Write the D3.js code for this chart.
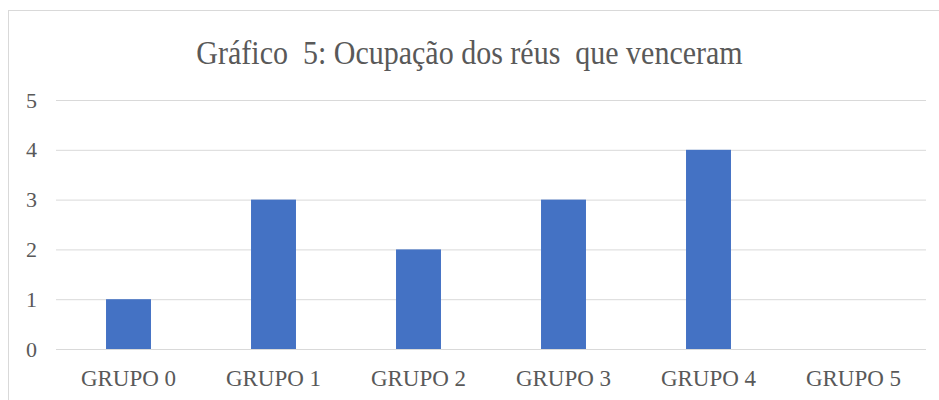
<!DOCTYPE html>
<html>
<head>
<meta charset="utf-8">
<script src="https://cdn.jsdelivr.net/npm/d3@7"></script>
<style>
  body { margin: 0; background: #fff; }
  svg text { font-family: "Liberation Serif", "Times New Roman", serif; fill: #595959; white-space: pre; }
</style>
</head>
<body>
<svg width="939" height="400"></svg>
<script>
"use strict";

var title = "Gráfico  5: Ocupação dos réus  que venceram";
var categories = ["GRUPO 0", "GRUPO 1", "GRUPO 2", "GRUPO 3", "GRUPO 4", "GRUPO 5"];
var values = [1, 3, 2, 3, 4, 0];
var yTicks = [0, 1, 2, 3, 4, 5];

var svg = d3.select('svg');
var margin = {left: 56, right: 13, top: 100, bottom: 51};
var width = 939, height = 400;

// chart frame
svg.append('rect')
	.attr('x', 8.5).attr('y', 10.5)
	.attr('width', 940).attr('height', 400)
	.attr('fill', 'none')
	.attr('stroke', '#d9d9d9');

var x = d3.scaleBand()
	.domain(categories)
	.range([margin.left, width - margin.right])
	.paddingInner(0.69)
	.paddingOuter(0.345);

var y = d3.scaleLinear()
	.domain([0, 5])
	.range([height - margin.bottom, margin.top]);

// title, slightly stretched vertically like the original
svg.append('text')
	.attr('transform', 'translate(' + (width / 2) + ',64) scale(1,1.12)')
	.attr('text-anchor', 'middle')
	.attr('font-size', 30)
	.text(title);

var grid = d3.axisLeft(y)
	.tickValues(yTicks)
	.tickSize(-(width - margin.left - margin.right))
	.tickPadding(19)
	.tickFormat(d3.format('d'));

var gy = svg.append('g')
	.attr('transform', 'translate(' + margin.left + ',0)')
	.call(grid);
gy.select('.domain').remove();
gy.selectAll('line').attr('stroke', '#d9d9d9');
gy.selectAll('text').attr('font-size', 22);

svg.selectAll('rect.bar').data(values).enter().append('rect')
	.attr('class', 'bar')
	.attr('fill', '#4472c4')
	.attr('x', function(d, i) {return x(categories[i])})
	.attr('width', x.bandwidth())
	.attr('y', function(d) {return y(d)})
	.attr('height', function(d) {return y(0) - y(d)});

var gx = svg.append('g')
	.attr('transform', 'translate(0,' + y(0) + ')')
	.call(d3.axisBottom(x).tickSize(0).tickPadding(21));
gx.select('.domain').remove();
gx.selectAll('text').attr('font-size', 23);
</script>
</body>
</html>
